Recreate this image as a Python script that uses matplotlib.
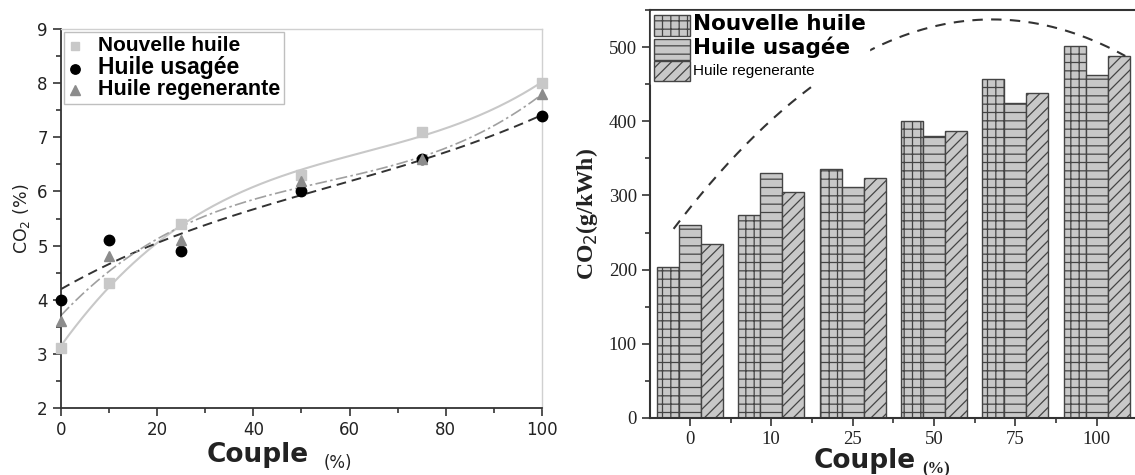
import numpy as np
import matplotlib
matplotlib.use('Agg')
import matplotlib.pyplot as plt
from matplotlib.ticker import MultipleLocator

# données
couple = [0, 10, 25, 50, 75, 100]
co2_nouvelle = [3.1, 4.3, 5.4, 6.3, 7.1, 8.0]
co2_usagee = [4.0, 5.1, 4.9, 6.0, 6.6, 7.4]
co2_regen = [3.6, 4.8, 5.1, 6.2, 6.6, 7.8]

groupes = ['0', '10', '25', '50', '75', '100']
gkwh_nouvelle = [203, 273, 336, 400, 457, 501]
gkwh_usagee = [260, 330, 311, 380, 425, 463]
gkwh_regen = [234, 304, 323, 387, 438, 488]

# tendance (pointillés) du graphe de droite
tend_x = [-0.2, 3.6, 5.35]
tend_y = [255, 537, 488]

plt.rcParams['hatch.linewidth'] = 0.9

fig = plt.figure(figsize=(11.35, 4.75), dpi=100)

# ---------- graphe de gauche ----------
ax1 = fig.add_axes([0.0537, 0.141, 0.4238, 0.798])
xs = np.linspace(0, 100, 200)
fit_n = np.polyfit(couple, co2_nouvelle, 3)
fit_u = np.polyfit(couple, co2_usagee, 3)
fit_r = np.polyfit(couple, co2_regen, 3)
ax1.plot(xs, np.polyval(fit_n, xs), color='#c8c8c8', lw=1.5, zorder=2)
ax1.plot(xs, np.polyval(fit_u, xs), color='#333333', lw=1.4, ls=(0, (5, 3)), zorder=2)
ax1.plot(xs, np.polyval(fit_r, xs), color='#a0a0a0', lw=1.2, ls=(0, (7, 2, 1.5, 2)), zorder=2)

ax1.plot(couple, co2_nouvelle, 's', color='#c8c8c8', ms=6.5, label='Nouvelle huile', clip_on=False, zorder=3)
ax1.plot(couple, co2_usagee, 'o', color='black', ms=7.5, label='Huile usagée', clip_on=False, zorder=3)
ax1.plot(couple, co2_regen, '^', color='#8c8c8c', ms=7.5, label='Huile regenerante', clip_on=False, zorder=3)

ax1.set_xlim(0, 100)
ax1.set_ylim(2, 9)
ax1.xaxis.set_major_locator(MultipleLocator(20))
ax1.xaxis.set_minor_locator(MultipleLocator(10))
ax1.yaxis.set_major_locator(MultipleLocator(1))
ax1.yaxis.set_minor_locator(MultipleLocator(0.5))
ax1.tick_params(which='major', direction='out', length=6, width=1.2, colors='#333333', labelsize=12)
ax1.tick_params(which='minor', direction='out', length=3.5, width=1.2, colors='#333333')
ax1.tick_params(axis='both', labelcolor='#222222')
for s in ['left', 'bottom']:
    ax1.spines[s].set_color('#333333')
    ax1.spines[s].set_linewidth(1.3)
for s in ['top', 'right']:
    ax1.spines[s].set_color('#d0d0d0')
    ax1.spines[s].set_linewidth(1.0)
ax1.set_ylabel('CO$_2$ (%)', fontsize=12.5, color='#222222', labelpad=4)

leg1 = ax1.legend(loc='upper left', frameon=True, fancybox=False, edgecolor='#b0b0b0',
                  borderaxespad=0.25, handlelength=1.0, handletextpad=1.2,
                  labelspacing=0.05, borderpad=0.25, markerscale=0.9)
t = leg1.get_texts()
t[0].set_fontsize(15)
t[1].set_fontsize(16.5)
t[2].set_fontsize(15.5)
for tt in t:
    tt.set_fontweight('bold')
    tt.set_family('Liberation Sans')

ax1.text(0.41, -0.125, 'Couple', transform=ax1.transAxes, fontsize=19, fontweight='heavy',
         family='DejaVu Sans', color='#222222', ha='center', va='center')
ax1.text(0.575, -0.145, '(%)', transform=ax1.transAxes, fontsize=12, color='#222222',
         ha='center', va='center')

# ---------- graphe de droite ----------
ax2 = fig.add_axes([0.5727, 0.12, 0.4273, 0.859])
pos = np.arange(len(groupes))
w = 0.27
style = dict(color='#c8c8c8', edgecolor='#444444', linewidth=1.0, zorder=2)
ax2.bar(pos - w, gkwh_nouvelle, w, hatch='++', label='Nouvelle huile', **style)
ax2.bar(pos, gkwh_usagee, w, hatch='--', label='Huile usagée', **style)
ax2.bar(pos + w, gkwh_regen, w, hatch='///', label='Huile regenerante', **style)

tfit = np.polyfit(tend_x, tend_y, 2)
tx = np.linspace(tend_x[0], tend_x[-1], 200)
ax2.plot(tx, np.polyval(tfit, tx), color='#333333', lw=1.5, ls=(0, (5, 4)), zorder=3)

ax2.set_xlim(-0.49, 5.47)
ax2.set_ylim(0, 550)
ax2.set_xticks(pos)
ax2.set_xticklabels(groupes)
ax2.set_xticks(pos[:-1] + 0.5, minor=True)
ax2.yaxis.set_major_locator(MultipleLocator(100))
ax2.yaxis.set_minor_locator(MultipleLocator(50))
ax2.tick_params(which='major', direction='out', length=6, width=1.2, colors='#333333', labelsize=13.5)
ax2.tick_params(which='minor', direction='out', length=3.5, width=1.2, colors='#333333')
for lab in ax2.get_xticklabels() + ax2.get_yticklabels():
    lab.set_family('Liberation Serif')
    lab.set_color('#222222')
ax2.spines['right'].set_visible(False)
for s in ['left', 'bottom', 'top']:
    ax2.spines[s].set_color('#333333')
    ax2.spines[s].set_linewidth(1.5)
ax2.set_ylabel('CO$_2$(g/kWh)', fontsize=17, fontweight='bold', family='Liberation Serif',
               color='#222222', labelpad=6)

leg2 = ax2.legend(loc='upper left', frameon=True, fancybox=False, facecolor='white',
                  edgecolor='white', framealpha=1, borderaxespad=0.1, handlelength=2.6,
                  handleheight=1.9, handletextpad=0.2, labelspacing=0.05, borderpad=0.2)
leg2.set_zorder(5)
t2 = leg2.get_texts()
t2[0].set_fontsize(15.5)
t2[0].set_fontweight('bold')
t2[1].set_fontsize(15.5)
t2[1].set_fontweight('bold')
t2[2].set_fontsize(11)
t2[2].set_family('Liberation Sans')

ax2.text(0.443, -0.105, 'Couple', transform=ax2.transAxes, fontsize=19, fontweight='heavy',
         family='DejaVu Sans', color='#222222', ha='center', va='center')
ax2.text(0.59, -0.125, '(%)', transform=ax2.transAxes, fontsize=12, fontweight='bold',
         family='Liberation Serif', color='#222222', ha='center', va='center')

fig.savefig('out.png', dpi=100)
